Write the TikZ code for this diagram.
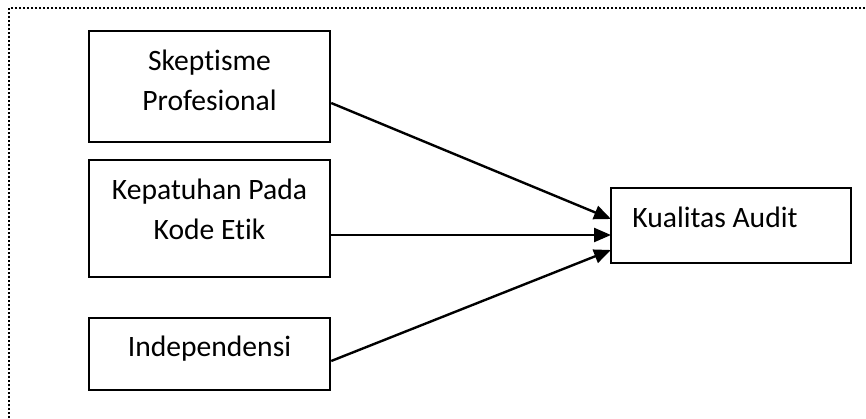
\documentclass[tikz,border=0pt]{standalone}
\usepackage{fontspec}
\setmainfont{Carlito}[Ligatures=NoCommon]
\usetikzlibrary{arrows.meta}
\begin{document}
\begin{tikzpicture}[x=0.5pt,y=-0.5pt,
  box/.style={draw=black,line width=1.2pt,inner sep=0pt},
  txt/.style={inner sep=0pt,font=\fontsize{14.8}{18}\selectfont,text=black},
  conn/.style={line width=1.2pt,-{Triangle[length=8.5pt,width=7pt]}},
  frame/.style={line width=0.9pt,dash pattern=on 0.9pt off 1.1pt}]
\useasboundingbox (0,0) rectangle (866,418);
\draw[frame] (9,418) -- (9,8) -- (866,8);
% boxes
\node[box,minimum width=120.5pt,minimum height=55.5pt] (b1) at (209.5,86.5) {};
\node[box,minimum width=120.5pt,minimum height=58.5pt] (b2) at (209.5,218.5) {};
\node[box,minimum width=120.5pt,minimum height=36pt] (b3) at (209.5,354) {};
\node[box,minimum width=120pt,minimum height=37.5pt] (b4) at (731,225.5) {};
% texts
\node[txt,anchor=base] (t1a) at (209.5,70) {Skeptisme};
\node[txt,anchor=base] (t1b) at (209.5,110) {Profesional};
\node[txt,anchor=base] (t2a) at (209.5,199) {Kepatuhan Pada};
\node[txt,anchor=base] (t2b) at (209.5,239) {Kode Etik};
\node[txt,anchor=base] (t3) at (209.5,356) {Independensi};
\node[txt,anchor=base west] (t4) at (632,227) {Kualitas Audit};
% connectors
\coordinate (e1) at (611,219);
\coordinate (e2) at (611,235);
\coordinate (e3) at (611,250);
\draw[conn] (b1.east |- 0,103) -- (e1);
\draw[conn] (b2.east |- 0,235) -- (e2);
\draw[conn] (b3.east |- 0,361) -- (e3);
\end{tikzpicture}
\end{document}
